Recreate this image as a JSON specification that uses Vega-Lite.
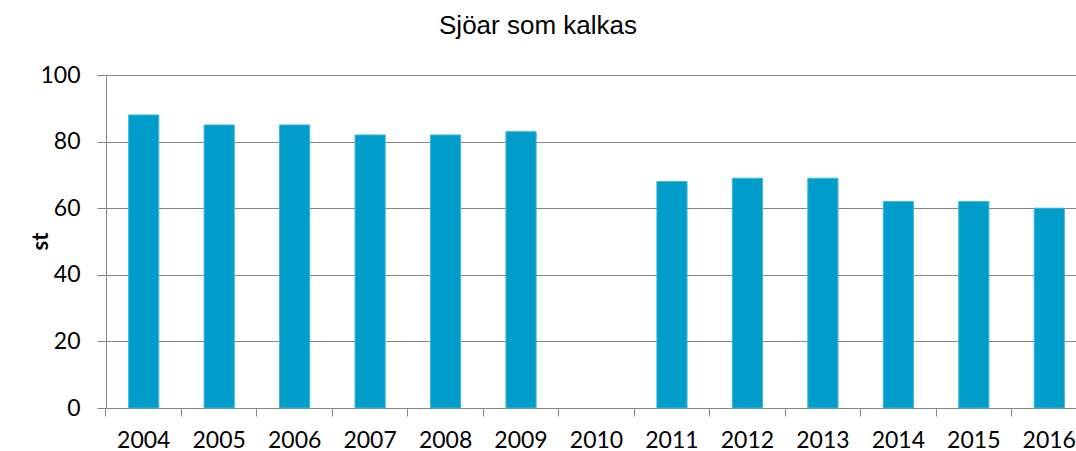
{
  "$schema": "https://vega.github.io/schema/vega-lite/v6.json",
  "width": 970,
  "height": 333,
  "autosize": {"type": "none"},
  "padding": {"left": 106, "top": 75, "right": 0, "bottom": 43},
  "background": "white",
  "title": {
    "text": "Sjöar som kalkas",
    "font": "Liberation Sans",
    "fontSize": 26,
    "fontWeight": "normal",
    "color": "#000000",
    "anchor": "middle",
    "frame": "group",
    "dx": -53,
    "offset": 25
  },
  "data": {
    "values": [
      {"year": "2004", "value": 88},
      {"year": "2005", "value": 85},
      {"year": "2006", "value": 85},
      {"year": "2007", "value": 82},
      {"year": "2008", "value": 82},
      {"year": "2009", "value": 83},
      {"year": "2010", "value": null},
      {"year": "2011", "value": 68},
      {"year": "2012", "value": 69},
      {"year": "2013", "value": 69},
      {"year": "2014", "value": 62},
      {"year": "2015", "value": 62},
      {"year": "2016", "value": 60}
    ]
  },
  "mark": {"type": "bar", "color": "#009DCB", "stroke": "#3FB8DF", "strokeWidth": 1},
  "encoding": {
    "x": {
      "field": "year",
      "type": "nominal",
      "sort": null,
      "scale": {
        "domain": ["2004","2005","2006","2007","2008","2009","2010","2011","2012","2013","2014","2015","2016"],
        "range": [0, 981],
        "paddingInner": 0.6,
        "paddingOuter": 0.3
      },
      "axis": {
        "title": null,
        "labelAngle": 0,
        "labelFont": "Lato",
        "labelFontSize": 23,
        "labelColor": "#000000",
        "labelPadding": 13,
        "bandPosition": -0.75,
        "tickSize": 8,
        "tickColor": "#868686",
        "domainColor": "#868686",
        "grid": false
      }
    },
    "y": {
      "field": "value",
      "type": "quantitative",
      "scale": {"domain": [0, 100], "nice": false},
      "axis": {
        "title": "st",
        "titleFont": "Lato",
        "titleFontSize": 22,
        "titleFontWeight": "bold",
        "titleColor": "#000000",
        "titleX": -66,
        "titleY": 166,
        "titleBaseline": "middle",
        "titleAlign": "center",
        "values": [0, 20, 40, 60, 80, 100],
        "labelFont": "Lato",
        "labelFontSize": 23,
        "labelColor": "#000000",
        "labelPadding": 17,
        "tickSize": 9,
        "tickColor": "#868686",
        "domainColor": "#868686",
        "gridColor": "#868686",
        "grid": true
      }
    }
  },
  "config": {"view": {"stroke": null}}
}
